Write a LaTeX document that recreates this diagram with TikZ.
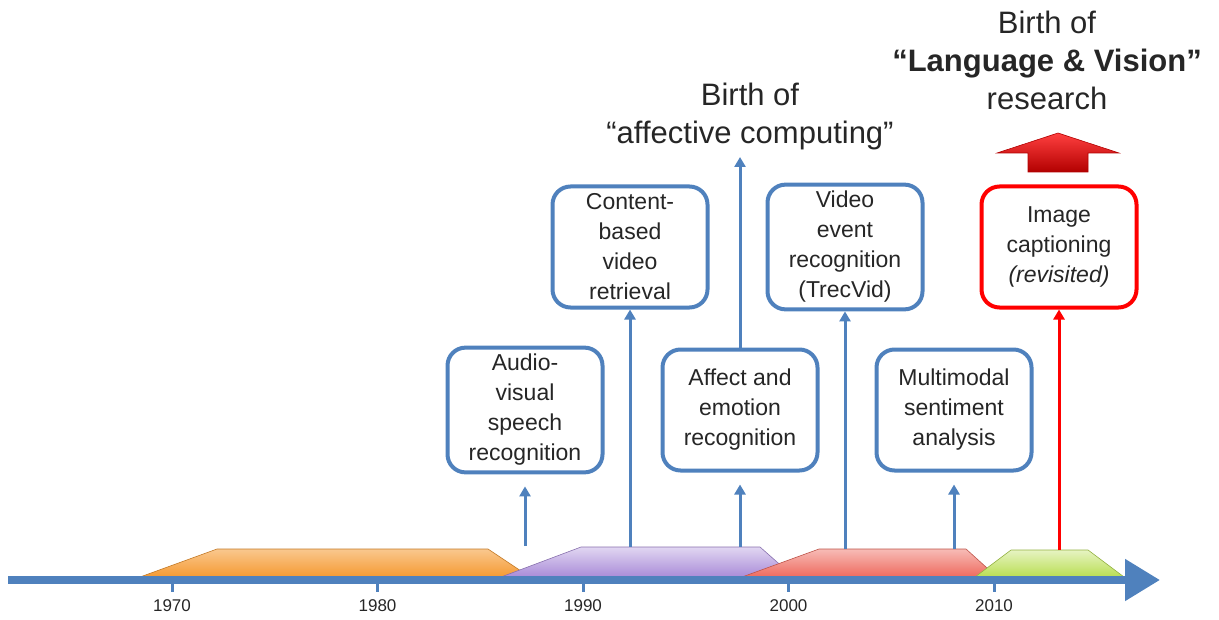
\documentclass[tikz,border=0pt]{standalone}
\usepackage{fontspec}
\setmainfont{Liberation Sans}
\usepackage{xcolor}
\usetikzlibrary{arrows.meta,positioning,calc}
\definecolor{axisblue}{HTML}{4F81BD}
\definecolor{boxred}{HTML}{FF0000}
\definecolor{inkgray}{HTML}{262626}
\definecolor{eraorange}{HTML}{F59A32}
\definecolor{erapurple}{HTML}{A98BD8}
\definecolor{erared}{HTML}{EE6A5E}
\definecolor{eragreen}{HTML}{B9DE52}

\begin{document}
\begin{tikzpicture}[x=0.5pt,y=-0.5pt,
  event/.style={draw=axisblue,line width=2pt,rounded corners=9pt,fill=white,
    minimum width=77.5pt,minimum height=60.5pt,align=center,text=inkgray,
    font=\fontsize{11.5}{15}\selectfont},
  birth/.style={align=center,text=inkgray,font=\fontsize{15.5}{19}\selectfont},
  yearlabel/.style={text=inkgray,font=\fontsize{8.5}{10}\selectfont},
  rise/.style={axisblue,line width=1.5pt,-{Triangle[length=5pt,width=5.5pt]}},
  era/.style={line width=.3pt}
]
\useasboundingbox (0,0) rectangle (1219,620);

% eras on the time line
\shade[era,draw=eraorange!80!black,top color=eraorange!55!white,bottom color=eraorange]
  (140,577) -- (217,549) -- (488,549) -- (530,577) -- cycle;
\shade[era,draw=erapurple!80!black,top color=erapurple!35,bottom color=erapurple]
  (501,577) -- (581,547) -- (760,547) -- (794,577) -- cycle;
\shade[era,draw=erared!80!black,top color=erared!45,bottom color=erared]
  (742,577) -- (819,549) -- (966,549) -- (997,577) -- cycle;
\shade[era,draw=eragreen!80!black,top color=eragreen!35,bottom color=eragreen]
  (975,577) -- (1011,550) -- (1088,550) -- (1124,577) -- cycle;

% time axis
\coordinate (tstart) at (8,580);
\coordinate (tend) at (1160,580);
\draw[axisblue,line width=4pt,-{Triangle[length=17.5pt,width=20pt]}] (tstart) -- (tend);
\foreach \i/\yr in {0/1970,1/1980,2/1990,3/2000,4/2010} {
  \coordinate (tick\yr) at (172+\i*205.5,584);
  \draw[axisblue,line width=1.5pt] (tick\yr) -- ++(0,8);
  \node[yearlabel] (year\yr) at (172+\i*205.5,606) {\yr};
}

% research topics
\node[event] (avsr) at (525,410) {Audio-\\visual\\speech\\recognition};
\node[event] (cbvr) at (630,247) {Content-\\based\\video\\retrieval};
\node[event] (aer) at (740,410) {Affect and\\emotion\\recognition};
\node[event] (trecvid) at (845,247) {Video\\event\\recognition\\(TrecVid)};
\node[event] (msa) at (954,410) {Multimodal\\sentiment\\analysis};
\node[event,draw=boxred] (caption) at (1059,247) {Image\\captioning\\\textit{(revisited)}};

% where each topic starts
\coordinate (avsr-from) at (525,546);
\coordinate (cbvr-from) at (630,547);
\coordinate (aer-from) at (740,547);
\coordinate (trecvid-from) at (845,549);
\coordinate (msa-from) at (954,549);
\coordinate (caption-from) at (1059,550);
\coordinate (affective-top) at (740,157);

\draw[rise,shorten >=6pt] (avsr-from) -- (avsr.south);
\draw[rise] (cbvr-from) -- (cbvr.south);
\draw[rise,shorten >=6pt] (aer-from) -- (aer.south);
\draw[rise] (aer.north) -- (affective-top);
\draw[rise] (trecvid-from) -- (trecvid.south);
\draw[rise,shorten >=6pt] (msa-from) -- (msa.south);
\draw[rise,boxred] (caption-from) -- (caption.south);

% milestones
\node[birth,above=0pt of affective-top,xshift=5pt] (affective) {Birth of\\``affective computing''};
\shade[top color=boxred!75,bottom color=boxred!70!black,draw=boxred!70!black,line width=.3pt]
  (1028,172) -- (1028,153) -- (997,153) -- (1058,133) -- (1119,153) -- (1088,153) -- (1088,172) -- cycle;
\node[birth] (lv) at (1047,60) {Birth of\\\textbf{``Language \& Vision''}\\research};
\end{tikzpicture}
\end{document}
